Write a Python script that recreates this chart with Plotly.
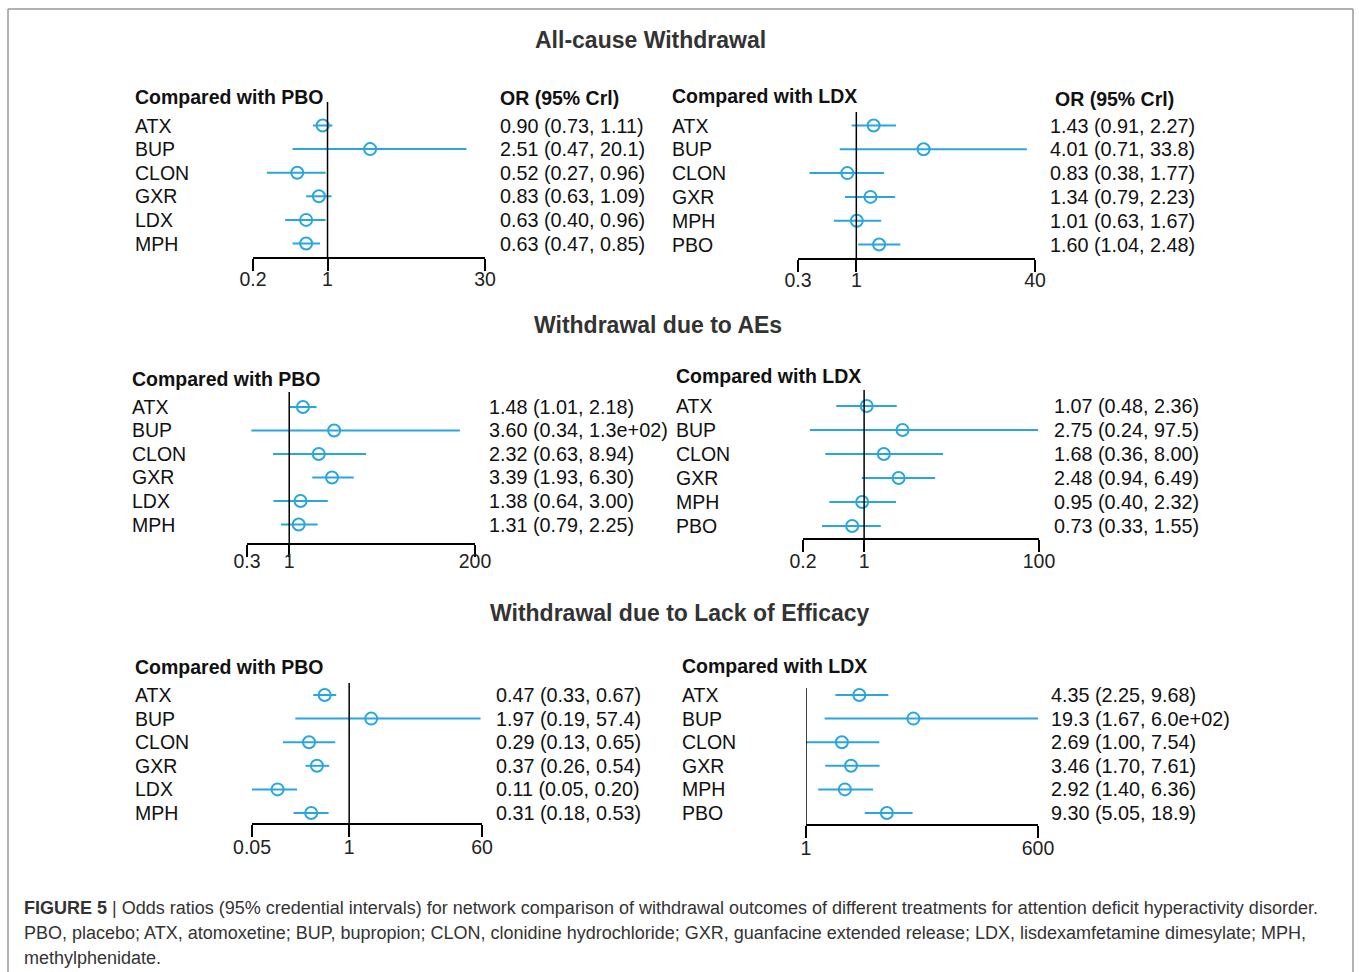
import plotly.graph_objects as go
import math

W, H = 1359, 972
BLUE = "#29a6df"
FONT = "Arial, Liberation Sans, sans-serif"

# ---------------- data ----------------
names_pbo = ["ATX", "BUP", "CLON", "GXR", "LDX", "MPH"]
names_ldx = ["ATX", "BUP", "CLON", "GXR", "MPH", "PBO"]

# All-cause withdrawal
ac_pbo_or = [0.90, 2.51, 0.52, 0.83, 0.63, 0.63]
ac_pbo_lo = [0.73, 0.47, 0.27, 0.63, 0.40, 0.47]
ac_pbo_hi = [1.11, 20.1, 0.96, 1.09, 0.96, 0.85]
ac_ldx_or = [1.43, 4.01, 0.83, 1.34, 1.01, 1.60]
ac_ldx_lo = [0.91, 0.71, 0.38, 0.79, 0.63, 1.04]
ac_ldx_hi = [2.27, 33.8, 1.77, 2.23, 1.67, 2.48]

# Withdrawal due to AEs
ae_pbo_or = [1.48, 3.60, 2.32, 3.39, 1.38, 1.31]
ae_pbo_lo = [1.01, 0.34, 0.63, 1.93, 0.64, 0.79]
ae_pbo_hi = [2.18, 130, 8.94, 6.30, 3.00, 2.25]
ae_ldx_or = [1.07, 2.75, 1.68, 2.48, 0.95, 0.73]
ae_ldx_lo = [0.48, 0.24, 0.36, 0.94, 0.40, 0.33]
ae_ldx_hi = [2.36, 97.5, 8.00, 6.49, 2.32, 1.55]

# Withdrawal due to lack of efficacy
le_pbo_or = [0.47, 1.97, 0.29, 0.37, 0.11, 0.31]
le_pbo_lo = [0.33, 0.19, 0.13, 0.26, 0.05, 0.18]
le_pbo_hi = [0.67, 57.4, 0.65, 0.54, 0.20, 0.53]
le_ldx_or = [4.35, 19.3, 2.69, 3.46, 2.92, 9.30]
le_ldx_lo = [2.25, 1.67, 1.00, 1.70, 1.40, 5.05]
le_ldx_hi = [9.68, 600, 7.54, 7.61, 6.36, 18.9]

ticks_ac_pbo = [0.2, 1, 30]
ticks_ac_ldx = [0.3, 1, 40]
ticks_ae_pbo = [0.3, 1, 200]
ticks_ae_ldx = [0.2, 1, 100]
ticks_le_pbo = [0.05, 1, 60]
ticks_le_ldx = [1, 600]

section_titles = ["All-cause Withdrawal", "Withdrawal due to AEs",
                  "Withdrawal due to Lack of Efficacy"]

caption_lines = [
    "<b>FIGURE 5</b> | Odds ratios (95% credential intervals) for network comparison of withdrawal outcomes of different treatments for attention deficit hyperactivity disorder.",
    "PBO, placebo; ATX, atomoxetine; BUP, bupropion; CLON, clonidine hydrochloride; GXR, guanfacine extended release; LDX, lisdexamfetamine dimesylate; MPH,",
    "methylphenidate.",
]

# ---------------- layout geometry (pixels) ----------------
panels = [
    dict(names=names_pbo, orv=ac_pbo_or, lo=ac_pbo_lo, hi=ac_pbo_hi, ticks=ticks_ac_pbo,
         px0=253, px1=485, axis_y=257, top=102, row0=125.5, sp=23.6, name_x=135,
         header="Compared with PBO", header_y=97, or_x=500, or_head=(500, 98), lab=-8),
    dict(names=names_ldx, orv=ac_ldx_or, lo=ac_ldx_lo, hi=ac_ldx_hi, ticks=ticks_ac_ldx,
         px0=798, px1=1035, axis_y=258, top=112, row0=125.5, sp=23.8, name_x=672,
         header="Compared with LDX", header_y=96, or_x=1050, or_head=(1055, 99), lab=-8),
    dict(names=names_pbo, orv=ae_pbo_or, lo=ae_pbo_lo, hi=ae_pbo_hi, ticks=ticks_ae_pbo,
         px0=247, px1=475, axis_y=543, top=392, row0=407, sp=23.5, name_x=132,
         header="Compared with PBO", header_y=379, or_x=489, or_head=None, lab=-12),
    dict(names=names_ldx, orv=ae_ldx_or, lo=ae_ldx_lo, hi=ae_ldx_hi, ticks=ticks_ae_ldx,
         px0=803, px1=1039, axis_y=538, top=390, row0=406, sp=24.0, name_x=676,
         header="Compared with LDX", header_y=376, or_x=1054, or_head=None, lab=-7),
    dict(names=names_pbo, orv=le_pbo_or, lo=le_pbo_lo, hi=le_pbo_hi, ticks=ticks_le_pbo,
         px0=252, px1=482, axis_y=823, top=683, row0=695, sp=23.6, name_x=135,
         header="Compared with PBO", header_y=667, or_x=496, or_head=None, lab=-6),
    dict(names=names_ldx, orv=le_ldx_or, lo=le_ldx_lo, hi=le_ldx_hi, ticks=ticks_le_ldx,
         px0=806, px1=1038, axis_y=824, top=688, row0=695, sp=23.6, name_x=682,
         header="Compared with LDX", header_y=666, or_x=1051, or_head=None, lab=-6),
]

PAD = 2  # annotation inner padding compensation


def fx(px):
    return px / W


def fy(py):
    return 1 - py / H


def fmt(v):
    if v >= 100:
        return f"{v:.1e}"
    if v >= 10:
        return f"{v:.1f}"
    return f"{v:.2f}"


fig = go.Figure()
annotations = []
shapes = []
layout_axes = {}

for k, p in enumerate(panels, start=1):
    xa = "x" if k == 1 else f"x{k}"
    ya = "y" if k == 1 else f"y{k}"
    n = len(p["names"])
    rows = list(range(n))
    lo_t, hi_t = p["ticks"][0], p["ticks"][-1]

    # CI lines
    lx, ly = [], []
    for i in rows:
        lx += [p["lo"][i], p["hi"][i], None]
        ly += [i, i, None]
    fig.add_trace(go.Scatter(x=lx, y=ly, mode="lines", xaxis=xa, yaxis=ya,
                             line=dict(color=BLUE, width=2), cliponaxis=False,
                             showlegend=False, hoverinfo="skip"))
    # point estimates
    fig.add_trace(go.Scatter(x=p["orv"], y=rows, mode="markers", xaxis=xa, yaxis=ya,
                             marker=dict(symbol="circle-open", size=12, color=BLUE,
                                         line=dict(width=2, color=BLUE)),
                             cliponaxis=False, showlegend=False))

    # axes
    yb = (p["axis_y"] - p["row0"]) / p["sp"]
    yt = (p["top"] - p["row0"]) / p["sp"]
    layout_axes["xaxis" if k == 1 else f"xaxis{k}"] = dict(
        type="log", domain=[fx(p["px0"]), fx(p["px1"])],
        range=[math.log10(lo_t), math.log10(hi_t)], anchor=ya,
        showgrid=False, zeroline=False, showline=True, linecolor="black", linewidth=1.5,
        ticks="outside", ticklen=12, tickwidth=1.5, tickcolor="black",
        tickvals=p["ticks"], ticktext=[f"{t:g}" for t in p["ticks"]],
        ticklabelstandoff=p["lab"],
        tickfont=dict(family=FONT, size=19.5, color="#222"), fixedrange=True,
        automargin=False)
    layout_axes["yaxis" if k == 1 else f"yaxis{k}"] = dict(
        domain=[fy(p["axis_y"]), fy(p["top"])], range=[yb, yt], anchor=xa,
        visible=False, showgrid=False, zeroline=False, fixedrange=True, automargin=False)

    # reference line at OR = 1
    shapes.append(dict(type="line", xref=xa, yref=f"{ya} domain", x0=1, x1=1, y0=0, y1=1,
                       line=dict(color="black", width=1.5)))

    # labels
    for i in rows:
        annotations.append(dict(x=fx(p["name_x"] - PAD), xref="paper", y=i, yref=ya,
                                text=p["names"][i], showarrow=False, xanchor="left",
                                yanchor="middle",
                                font=dict(family=FONT, size=19.5, color="#111")))
        annotations.append(dict(x=fx(p["or_x"] - PAD), xref="paper", y=i, yref=ya,
                                text=f"{fmt(p['orv'][i])} ({fmt(p['lo'][i])}, {fmt(p['hi'][i])})",
                                showarrow=False, xanchor="left", yanchor="middle",
                                font=dict(family=FONT, size=19.8, color="#111")))
    annotations.append(dict(x=fx(p["name_x"] - PAD), xref="paper", y=fy(p["header_y"]),
                            yref="paper", text=f"<b>{p['header']}</b>", showarrow=False,
                            xanchor="left", yanchor="middle",
                            font=dict(family=FONT, size=19.5, color="#111")))
    if p["or_head"]:
        annotations.append(dict(x=fx(p["or_head"][0] - PAD), xref="paper",
                                y=fy(p["or_head"][1]), yref="paper",
                                text="<b>OR (95% Crl)</b>", showarrow=False,
                                xanchor="left", yanchor="middle",
                                font=dict(family=FONT, size=19.5, color="#111")))

# section titles
for t, (cx, cy) in zip(section_titles, [(650, 40), (658, 325), (680, 613)]):
    annotations.append(dict(x=fx(cx), xref="paper", y=fy(cy), yref="paper",
                            text=f"<b>{t}</b>", showarrow=False, xanchor="center",
                            yanchor="middle", font=dict(family=FONT, size=23, color="#333")))

# caption
for line, cy in zip(caption_lines, [908, 933, 958]):
    annotations.append(dict(x=fx(24 - PAD), xref="paper", y=fy(cy), yref="paper", text=line,
                            showarrow=False, xanchor="left", yanchor="middle",
                            font=dict(family=FONT, size=18, color="#333")))

# figure border (open at the bottom)
for x0, y0, x1, y1 in [(8, 9, 1353, 9), (8, 9, 8, 980), (1353, 9, 1353, 980)]:
    shapes.append(dict(type="line", xref="paper", yref="paper",
                       x0=fx(x0), y0=fy(y0), x1=fx(x1), y1=fy(y1),
                       line=dict(color="#999", width=1.5)))

fig.update_layout(width=W, height=H, autosize=False,
                  margin=dict(l=0, r=0, t=0, b=0, pad=0, autoexpand=False),
                  paper_bgcolor="white", plot_bgcolor="white",
                  annotations=annotations, shapes=shapes, showlegend=False,
                  **layout_axes)

fig.write_html("out.html")
